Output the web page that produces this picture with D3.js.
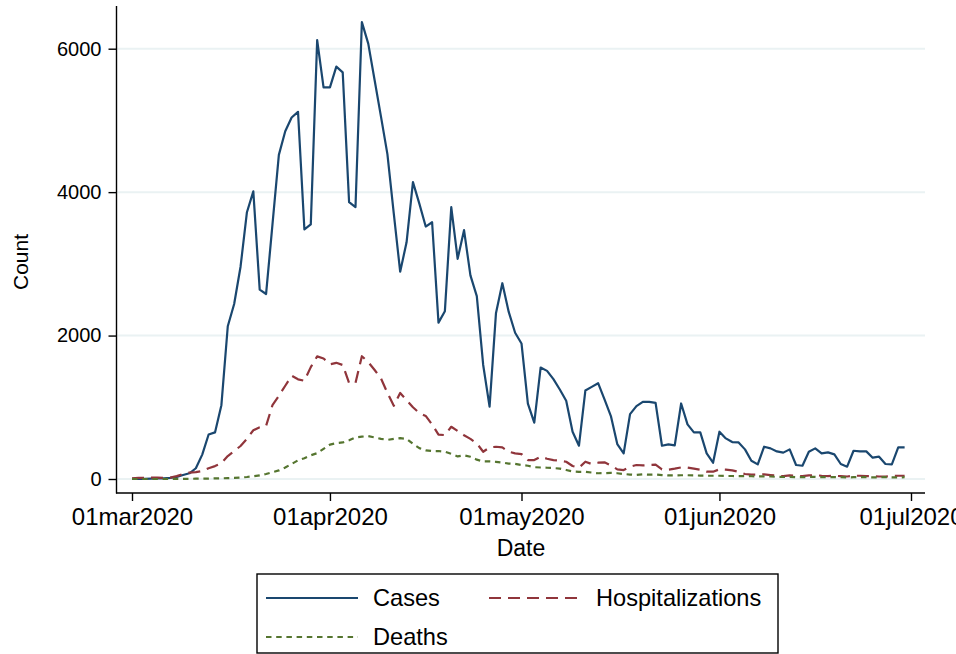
<!DOCTYPE html>
<html>
<head>
<meta charset="utf-8">
<script src="https://cdn.jsdelivr.net/npm/d3@7"></script>
<style>
  html, body { margin: 0; padding: 0; background: #fff; }
  svg { display: block; font-family: "Liberation Sans", Arial, Helvetica, sans-serif; }
</style>
</head>
<body>
<svg id="chart" width="956" height="654"></svg>
<script>
// ---- data (daily, starting 01mar2020) ----
const startDate = "2020-03-01";
const cases = [1,2,3,5,8,10,15,30,55,80,150,340,620,650,1030,2130,2440,2960,3720,4010,
  2640,2580,3550,4520,4850,5040,5120,3480,3550,6120,5460,5460,5750,5670,3860,3790,6370,6070,5560,5050,
  4530,3700,2890,3300,4140,3840,3520,3580,2180,2340,3790,3070,3470,2840,2550,1590,1010,2310,2730,2330,
  2040,1890,1050,785,1555,1508,1392,1248,1090,659,464,1234,1285,1336,1109,877,487,357,905,1016,
  1076,1076,1062,464,483,469,1053,761,650,650,357,227,659,566,515,510,413,255,204,450,
  427,385,368,413,195,185,381,427,357,371,343,209,172,394,385,385,297,311,209,204,441,441];
const hospitalizations = [10,15,15,18,18,15,20,40,70,90,95,110,150,180,220,320,390,460,560,680,
  720,740,1030,1160,1300,1440,1390,1370,1560,1710,1680,1600,1620,1590,1340,1340,1712,1630,1520,1400,
  1200,1020,1200,1100,1000,920,880,760,620,612,728,670,610,560,497,380,440,450,440,380,
  357,348,264,264,311,283,264,255,241,181,157,241,209,227,232,190,135,125,171,195,
  190,195,200,135,130,144,162,160,144,130,102,102,135,130,120,100,70,60,60,65,
  55,45,40,50,45,40,50,55,45,40,45,40,35,45,45,40,40,35,35,40,45,45];
const deaths = [0,0,0,0,0,0,1,1,2,3,4,5,6,8,10,12,15,20,28,38,
  50,70,95,120,160,210,260,290,330,360,420,480,500,510,540,580,590,598,580,560,
  545,560,570,560,490,430,400,390,390,380,350,315,330,310,270,245,245,240,230,215,
  210,195,185,165,160,157,152,145,125,105,100,100,90,80,82,85,80,70,62,56,
  65,60,62,55,50,50,52,52,50,48,45,45,45,42,42,40,40,38,35,38,
  35,30,28,30,25,25,28,30,25,25,28,25,22,25,28,25,22,25,25,22,22,25];
const xTicks = ["2020-03-01","2020-04-01","2020-05-01","2020-06-01","2020-07-01"];
const yTicks = [0, 2000, 4000, 6000];
const seriesNames = ["Cases", "Hospitalizations", "Deaths"];

// ---- layout ----
const svg = d3.select("#chart");
const plot = { left: 116.5, right: 925, top: 6, bottom: 493 };
const colors = { Cases: "#1a476f", Hospitalizations: "#90353b", Deaths: "#55752f" };
const dashes = { Cases: null, Hospitalizations: "12,7", Deaths: "5.5,4.7" };

const parse = d3.utcParse("%Y-%m-%d");
const t0 = parse(startDate);
const dates = cases.map((_, i) => d3.utcDay.offset(t0, i));

const x = d3.scaleUtc()
  .domain([parse("2020-03-01"), parse("2020-07-01")])
  .range([132, 911]);
const y = d3.scaleLinear().domain([0, 6000]).range([479, 48.7]);

// gridlines
svg.append("g").selectAll("line").data(yTicks).join("line")
  .attr("x1", plot.left + 1).attr("x2", plot.right)
  .attr("y1", d => y(d)).attr("y2", d => y(d))
  .attr("stroke", "#eaf2f3").attr("stroke-width", 2);

// lines
const series = { Cases: cases, Hospitalizations: hospitalizations, Deaths: deaths };
const line = d3.line().x((d, i) => x(dates[i])).y(d => y(d));
seriesNames.forEach(name => {
  svg.append("path")
    .datum(series[name])
    .attr("d", line)
    .attr("fill", "none")
    .attr("stroke", colors[name])
    .attr("stroke-width", 2.2)
    .attr("stroke-linejoin", "round")
    .attr("stroke-dasharray", dashes[name]);
});

// axes lines
svg.append("line").attr("x1", plot.left).attr("x2", plot.left)
  .attr("y1", plot.top).attr("y2", plot.bottom + 0.5)
  .attr("stroke", "#000").attr("stroke-width", 1.4);
svg.append("line").attr("x1", plot.left - 0.5).attr("x2", plot.right)
  .attr("y1", plot.bottom).attr("y2", plot.bottom)
  .attr("stroke", "#000").attr("stroke-width", 1.4);

// y axis
const yAxis = d3.axisLeft(y).tickValues(yTicks).tickSize(8).tickPadding(7).tickFormat(d3.format("d"));
const gy = svg.append("g").attr("transform", `translate(${plot.left},0)`).call(yAxis);
gy.select(".domain").remove();
gy.selectAll(".tick line").attr("stroke", "#000").attr("stroke-width", 1.4);
gy.selectAll(".tick text").attr("font-size", 20).attr("fill", "#000")
  .attr("font-family", "'Liberation Sans', Arial, sans-serif");

// x axis
const fmt = d3.utcFormat("%d%b%Y");
const xAxis = d3.axisBottom(x).tickValues(xTicks.map(parse)).tickSize(8).tickPadding(7)
  .tickFormat(d => fmt(d).toLowerCase());
const gx = svg.append("g").attr("transform", `translate(0,${plot.bottom})`).call(xAxis);
gx.select(".domain").remove();
gx.selectAll(".tick line").attr("stroke", "#000").attr("stroke-width", 1.4);
gx.selectAll(".tick text").attr("font-size", 24).attr("fill", "#000")
  .attr("font-family", "'Liberation Sans', Arial, sans-serif");

// axis titles
svg.append("text").attr("x", 521).attr("y", 556).attr("text-anchor", "middle")
  .attr("font-size", 23).text("Date");
svg.append("text").attr("transform", "translate(28,262) rotate(-90)")
  .attr("text-anchor", "middle").attr("font-size", 21).text("Count");

// legend
const leg = svg.append("g");
leg.append("rect").attr("x", 257).attr("y", 574).attr("width", 521).attr("height", 79)
  .attr("fill", "#fff").attr("stroke", "#000").attr("stroke-width", 1.4);
const legItems = [
  { name: "Cases", x: 266, y: 598 },
  { name: "Hospitalizations", x: 489, y: 598 },
  { name: "Deaths", x: 266, y: 637 }
];
legItems.forEach(it => {
  leg.append("line").attr("x1", it.x).attr("x2", it.x + 92)
    .attr("y1", it.y).attr("y2", it.y)
    .attr("stroke", colors[it.name]).attr("stroke-width", 2.2)
    .attr("stroke-dasharray", dashes[it.name]);
  leg.append("text").attr("x", it.x + 107).attr("y", it.y + 8)
    .attr("font-size", 23.6).attr("fill", "#000").text(it.name);
});
</script>
</body>
</html>
